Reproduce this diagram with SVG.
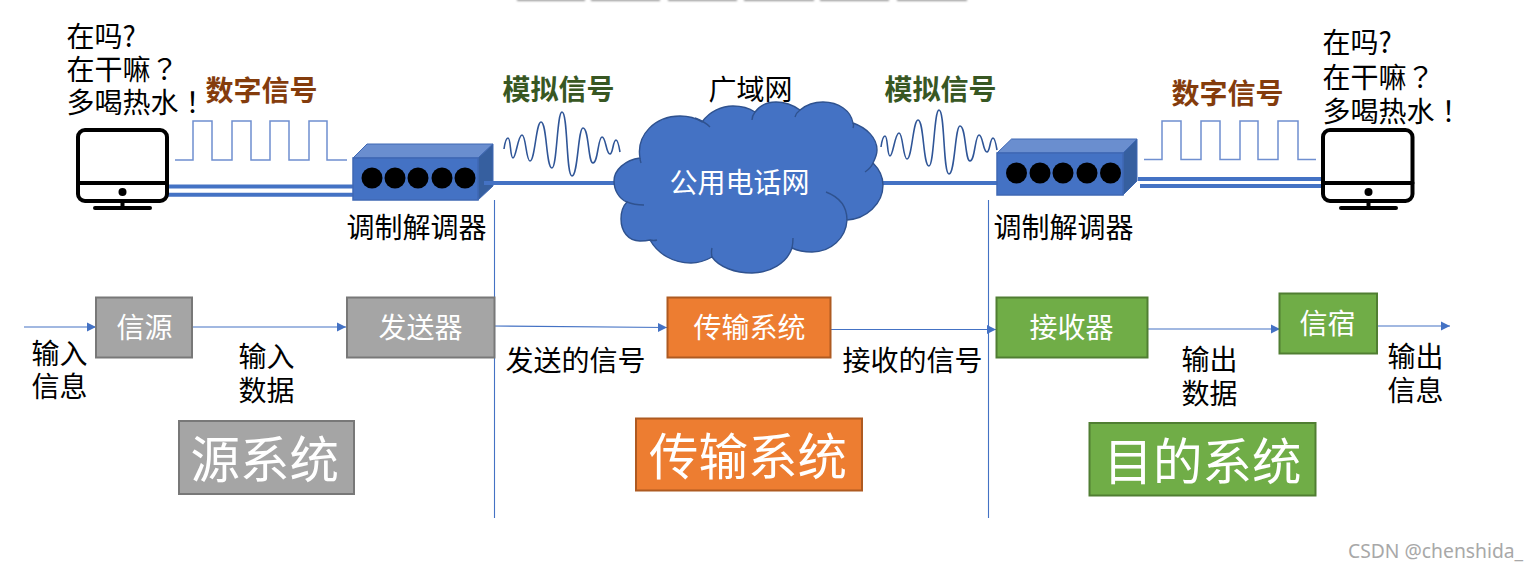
<svg xmlns="http://www.w3.org/2000/svg" xmlns:xlink="http://www.w3.org/1999/xlink" width="1538" height="571" viewBox="0 0 1538 571">
<style>
text{font-family:"Noto Sans CJK SC","Noto Sans",sans-serif;font-size:28px;fill:#000}
.tc{font-family:"Noto Sans CJK TC",sans-serif}
.w{fill:#fff}
.big{font-size:49.5px;fill:#fff}
.dig{font-weight:700;fill:#843c0c}
.ana{font-weight:700;fill:#385723}
.gray{fill:#a5a5a5;stroke:#787878;stroke-width:2}
.org{fill:#ed7d31;stroke:#ae5a21;stroke-width:2}
.grn{fill:#70ad47;stroke:#507e32;stroke-width:2}
.thin{fill:none;stroke:#4472c4;stroke-width:1.1}
.arr{fill:none;stroke:#4472c4;stroke-width:1.1;marker-end:url(#ah)}
.cable{fill:none;stroke:#4472c4;stroke-width:4}
.sq{fill:none;stroke:#6f8fd0;stroke-width:1.5}
.wave{fill:none;stroke:#2f5597;stroke-width:1.6}
.mon{fill:none;stroke:#000;stroke-width:4;stroke-linecap:round}
.front{fill:#4472c4;stroke:#3f68b4;stroke-width:1.5}
.top{fill:#6a8ecf;stroke:#3f68b4;stroke-width:1}
.side{fill:#365f9f;stroke:#3f68b4;stroke-width:1}
.cl{fill:#4472c4;stroke:#2f528f;stroke-width:1.4}
.cli{fill:none;stroke:#2f528f;stroke-width:1.4}
.stub{fill:#999;filter:url(#bl)}
</style>
<defs>
<marker id="ah" markerUnits="userSpaceOnUse" markerWidth="10" markerHeight="10" refX="9" refY="5" orient="auto"><path d="M0,0.5L9,5L0,9.5Z" fill="#4472c4"/></marker>
<filter id="bl" x="-10%" y="-200%" width="120%" height="500%"><feGaussianBlur stdDeviation="1.2"/></filter>
<path id="wv" d="M504,149C505,142 506,138 508,138C511,138 510,158 513,158C516,158 518,135 522,135C526,135 526,161 530,161C535,161 536,122 541,122C547,122 546,168 552,168C557,168 557,112 562,112C568,112 566,176 572,176C578,176 578,128 583,128C589,128 588,163 593,163C598,163 598,137 602,137C606,137 606,154 610,154C613,154 613,140 616,140C618,140 619,146 620,152"/>
</defs>

<g id="top-stubs">
<rect class="stub" x="517" y="-3" width="68" height="4"/><rect class="stub" x="591" y="-3" width="69" height="4"/><rect class="stub" x="668" y="-3" width="69" height="4"/><rect class="stub" x="744" y="-3" width="70" height="4"/><rect class="stub" x="820" y="-3" width="69" height="4"/><rect class="stub" x="897" y="-3" width="70" height="4"/>
</g>

<g id="connectors">
<path class="cable" d="M168,186.5H353M168,194.7H353M484,183H616M881,183H998M1138,179H1323M1140,186H1325"/>
<path class="thin" d="M494.5,200V518M988.5,200V518"/>
<path class="arr" d="M24,327H96"/>
<path class="arr" d="M192,327H346"/>
<path class="arr" d="M491,326L667,327.5"/>
<path class="arr" d="M824,329.5H996"/>
<path class="arr" d="M1148,329H1280"/>
<path class="arr" d="M1378,326H1450"/>
</g>

<g id="signals">
<path class="sq" d="M175,160H193V121H212V160H232V121H251V160H270V121H289V160H309V121H327V160H347"/>
<path class="sq" d="M1144,159.500H1162V121H1181V159.500H1201V121H1220V159.500H1240V121H1258V159.500H1278V121H1298V159.500H1316"/>
<use xlink:href="#wv" href="#wv" class="wave"/>
<use xlink:href="#wv" href="#wv" class="wave" transform="translate(377,-2)"/>
<text class="dig" x="205.500" y="101">数字信号</text>
<text class="dig" x="1171.500" y="104">数字信号</text>
<text class="ana" x="502.500" y="100">模拟信号</text>
<text class="ana" x="884.500" y="100">模拟信号</text>
</g>

<g id="computer-left">
<rect class="mon" x="78" y="130" width="89" height="71" rx="7"/>
<path class="mon" d="M78,183H167M122.500,201V208M95,208H150"/>
<circle cx="122.500" cy="192" r="4"/>
<text x="66.500" y="47">在吗?</text>
<text x="66.500" y="80">在干嘛<tspan class="tc">？</tspan></text>
<text x="66.500" y="113">多喝热水<tspan class="tc">！</tspan></text>
</g>

<g id="modem-left">
<path class="top" d="M353,158L367,144H493L478,158Z"/>
<path class="side" d="M478,158L493,144V186L478,200Z"/>
<rect class="front" x="353" y="158" width="125" height="42"/>
<circle cx="372" cy="178" r="10.500"/><circle cx="395" cy="178" r="10.500"/><circle cx="418" cy="178" r="10.500"/><circle cx="442" cy="178" r="10.500"/><circle cx="465" cy="178" r="10.500"/>
<path d="M484,183H494" class="cable"/>
<text x="346.500" y="238">调制解调器</text>
</g>

<g id="cloud">
<path class="cl" d="M627,202C619,199 614,190 614,181C614,170 625,160 640,158C636,135 655,116 680,116C688,116 696,118 702,122C710,111 722,106 733,106C741,106 749,108 755,112C760,105 768,102 776,102C785,102 793,105 800,110C806,105 814,102 823,102C839,102 851,111 853,123C867,128 877,138 877,150C877,155 875,159 873,163C879,169 883,176 883,185C883,204 866,219 847,220C846,238 831,252 812,252C805,252 798,251 792,248C787,263 770,273 752,273C735,273 719,267 712,257C705,261 698,263 691,263C673,263 658,254 650,240C646,241 643,241 640,241C628,241 621,231 621,219C621,212 623,206 627,202Z"/>
<path class="cli" d="M695,118Q704,121 710,127M755,112Q752,116 752,120M800,110Q796,113 795,117M853,123Q854,125 853,128M640,158Q640,160 641,163M627,202Q634,205 644,205M650,240Q654,241 657,240M712,257Q711,252 712,248M792,248Q793,243 793,238M826,192Q847,200 847,220M865,172Q871,168 873,163"/>
<text class="w" x="669.500" y="193">公用电话网</text>
<text x="708.500" y="100">广域网</text>
</g>

<g id="modem-right">
<path class="top" d="M997,153L1011.500,139H1137L1123,153Z"/>
<path class="side" d="M1123,153L1137,139V181L1123,195Z"/>
<rect class="front" x="997" y="153" width="126" height="42"/>
<circle cx="1016.500" cy="173" r="10.500"/><circle cx="1040" cy="173" r="10.500"/><circle cx="1063" cy="173" r="10.500"/><circle cx="1087" cy="173" r="10.500"/><circle cx="1110.500" cy="173" r="10.500"/>
<text x="993.500" y="238">调制解调器</text>
</g>

<g id="computer-right">
<rect class="mon" x="1323" y="130" width="89.500" height="71" rx="7"/>
<path class="mon" d="M1323,183H1412.500M1368.500,201V208M1341,208H1396"/>
<circle cx="1368.500" cy="192" r="4"/>
<text x="1322.500" y="53">在吗?</text>
<text x="1322.500" y="88">在干嘛<tspan class="tc">？</tspan></text>
<text x="1322.500" y="121.500">多喝热水<tspan class="tc">！</tspan></text>
</g>

<g id="source"><rect class="gray" x="96" y="297.500" width="96" height="60"/><text class="w" x="116.500" y="338">信源</text></g>
<g id="transmitter"><rect class="gray" x="347" y="297.500" width="147.500" height="60"/><text class="w" x="378.500" y="338">发送器</text></g>
<g id="transmission"><rect class="org" x="667.500" y="297.500" width="163" height="60"/><text class="w" x="693.500" y="338">传输系统</text></g>
<g id="receiver"><rect class="grn" x="996.500" y="297.500" width="151" height="60"/><text class="w" x="1029.500" y="338">接收器</text></g>
<g id="destination"><rect class="grn" x="1279.500" y="293.500" width="97.500" height="60"/><text class="w" x="1299.500" y="334">信宿</text></g>

<g id="source-system"><rect class="gray" x="179" y="421" width="175" height="73"/><text class="big" x="190.500" y="478">源系统</text></g>
<g id="transmission-system"><rect class="org" x="636" y="418.500" width="226" height="72"/><text class="big" x="649" y="475">传输系统</text></g>
<g id="destination-system"><rect class="grn" x="1089.500" y="423" width="226" height="72.500"/><text class="big" x="1103.500" y="480">目的系统</text></g>

<g id="labels">
<text x="31.500" y="364">输入</text><text x="31.500" y="397">信息</text>
<text x="238.500" y="367">输入</text><text x="238.500" y="401">数据</text>
<text x="505.500" y="371">发送的信号</text>
<text x="842.500" y="371">接收的信号</text>
<text x="1181.500" y="370">输出</text><text x="1181.500" y="404">数据</text>
<text x="1387.500" y="367">输出</text><text x="1387.500" y="401">信息</text>
<text x="1348" y="558" style="font-family:'Noto Sans',sans-serif;font-size:19.300px;fill:#a8a8a8">CSDN @chenshida_</text>
</g>
</svg>
